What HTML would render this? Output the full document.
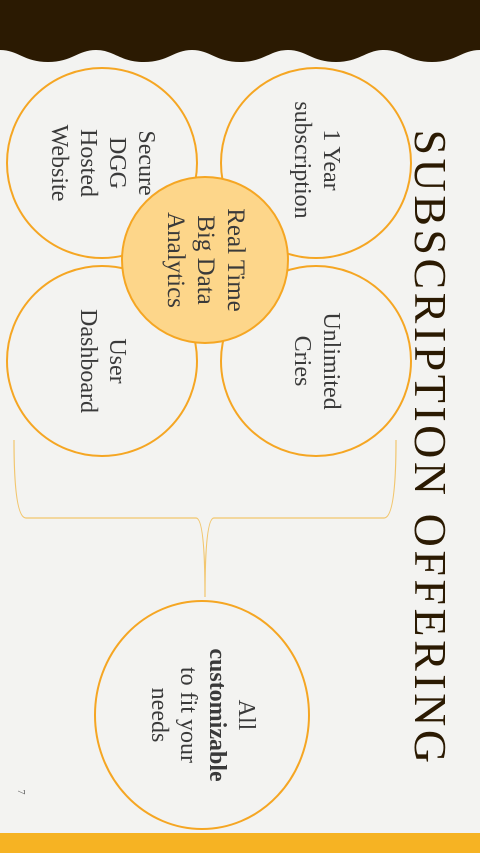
<!DOCTYPE html>
<html><head><meta charset="utf-8"><style>
body{margin:0;width:480px;height:853px;overflow:hidden;background:#f3f3f1;position:relative;font-family:"Liberation Serif",serif;}
.t{position:absolute;transform:translate(-50%,-50%) rotate(90deg);text-align:center;color:#3a3a3a;font-size:24px;line-height:29px;white-space:nowrap;}
</style></head><body>
<svg width="480" height="853" style="position:absolute;left:0;top:0">
<path d="M0 0 H480 V50 C462 50 456 62 432 62 C408 62 402 50 384 50 C366 50 360 62 336 62 C312 62 306 50 288 50 C270 50 264 62 240 62 C216 62 210 50 192 50 C174 50 168 62 144 62 C120 62 114 50 96 50 C78 50 72 62 48 62 C24 62 18 50 0 50 Z" fill="#2b1a02"/>
<rect x="0" y="833" width="480" height="20" fill="#f6b323"/>
<g fill="none" stroke="#f5a623" stroke-width="2">
<circle cx="316" cy="163" r="95"/>
<circle cx="102" cy="163" r="95"/>
<circle cx="316" cy="361" r="95"/>
<circle cx="102" cy="361" r="95"/>
<ellipse cx="202" cy="715" rx="107" ry="114"/>
</g>
<circle cx="205" cy="260" r="83" fill="#fdd68a" stroke="#f5a623" stroke-width="2"/>
<path d="M14 440 Q14 518 26 518 H196 Q205 518 205 597 Q205 518 214 518 H384 Q396 518 396 440" fill="none" stroke="#f2c66e" stroke-width="1.2"/>
</svg>
<div class="t" style="left:430px;top:448px;font-size:46px;line-height:48px;color:#2b1a02;letter-spacing:3.5px">SUBSCRIPTION OFFERING</div>
<div class="t" style="left:316px;top:160px">1 Year<br>subscription</div>
<div class="t" style="left:102px;top:163px">Secure<br>DGG<br>Hosted<br>Website</div>
<div class="t" style="left:316px;top:361px">Unlimited<br>Cries</div>
<div class="t" style="left:102px;top:361px">User<br>Dashboard</div>
<div class="t" style="left:205px;top:260px;font-size:25px;line-height:30px">Real Time<br>Big Data<br>Analytics</div>
<div class="t" style="left:202px;top:715px">All<br><b>customizable</b><br>to fit your<br>needs</div>
<div class="t" style="left:20px;top:792px;font-size:10px;line-height:10px;color:#666">7</div>
</body></html>
